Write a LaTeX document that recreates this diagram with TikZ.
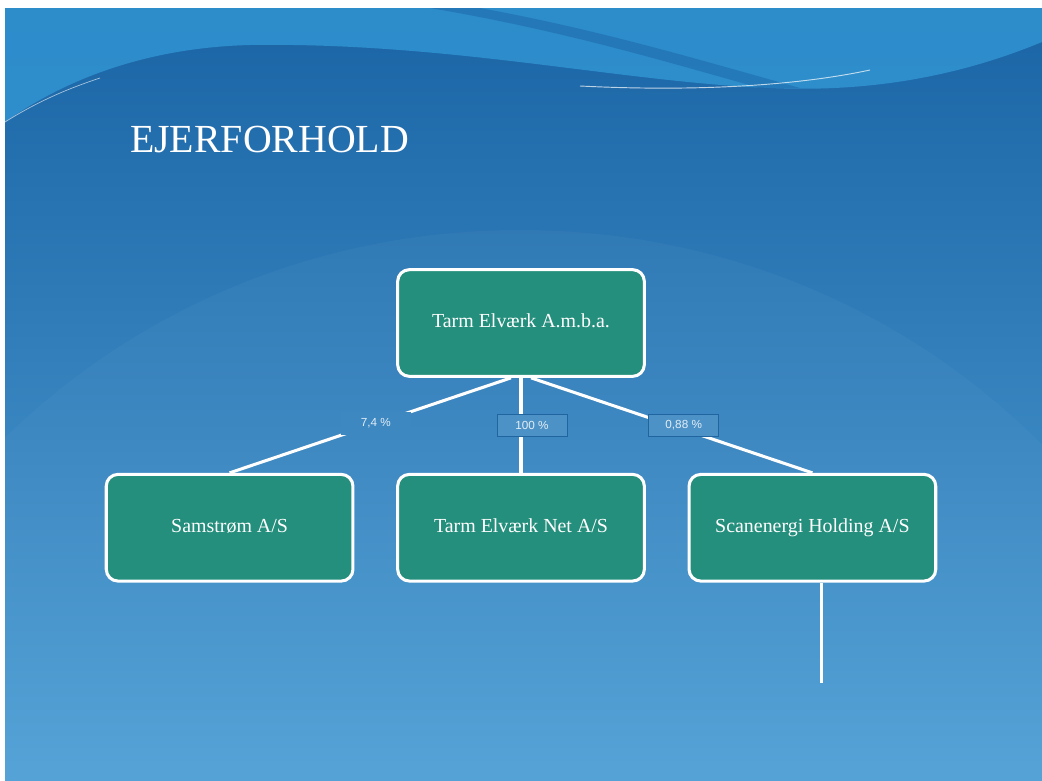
\documentclass[tikz,border=0pt]{standalone}
\usepackage{fontspec}
\setmainfont{Liberation Serif}
\setsansfont{Liberation Sans}
\usetikzlibrary{positioning}

\definecolor{slidetop}{RGB}{26,100,165}
\definecolor{slidebot}{RGB}{80,160,214}
\definecolor{wavelight}{RGB}{50,150,212}
\definecolor{wavedark}{RGB}{20,85,150}
\definecolor{boxteal}{RGB}{36,143,124}
\colorlet{lblblue}{slidebot!54!slidetop!97!white}
\colorlet{lblface}{lblblue!92!white}
\definecolor{lbledge}{RGB}{32,100,160}

\tikzset{
  orgbox/.style={draw=white, line width=2.6pt, rounded corners=10pt, fill=boxteal, text=white,
    minimum width=7.4cm, minimum height=3.2cm, text height=2.3ex, text depth=0.6ex,
    font=\fontsize{17}{19}\selectfont},
  link/.style={draw=white, line width=2.6pt},
  pct/.style={fill=lblblue, text=white!85!lblblue, font=\sffamily\fontsize{10}{12}\selectfont,
    inner sep=1pt, minimum width=2.1cm, minimum height=0.68cm},
  pctframe/.style={pct, fill=lblface, draw=lbledge, line width=0.7pt},
}

\begin{document}
\begin{tikzpicture}[x=0.03cm, y=-0.03cm]
        \useasboundingbox (0,0) rectangle (1042,780);
        % slide background
        \fill[white] (0,0) rectangle (1042,780);
        \shade[top color=slidetop, bottom color=slidebot] (5,8) rectangle (1042,780);
        \begin{scope}
            \clip (5,8) rectangle (1042,780);
            \fill[white, opacity=0.03] (520,920) ellipse (720 and 690);
            \fill[wavelight, opacity=0.8] (5,8) -- (1042,8) -- (1042,42) .. controls (950,80) and (860,92) .. (770,88)
                .. controls (620,82) and (450,42) .. (250,45) .. controls (130,48) and (50,90) .. (5,122) -- cycle;
            \fill[wavedark, opacity=0.35] (480,8) .. controls (600,30) and (700,60) .. (800,88) -- (760,88)
                .. controls (660,60) and (560,30) .. (430,8) -- cycle;
            \draw[white, opacity=0.7, line width=0.8pt] (580,86) .. controls (700,92) and (800,85) .. (870,70);
            \draw[white, opacity=0.6, line width=0.6pt] (5,122) .. controls (40,100) and (70,88) .. (100,78);
        \end{scope}

        \node[anchor=west, text=white, font=\fontsize{34}{38}\selectfont] (ttl) at (126,140) {EJERFORHOLD};

        % ownership tree
        \node[orgbox] (ow1) at (521,323) {Tarm Elværk A.m.b.a.};
        \node[orgbox, below=2.85cm of ow1] (sub2) {Tarm Elværk Net A/S};
        \node[orgbox, left=1.25cm of sub2] (sub1) {Samstrøm A/S};
        \node[orgbox, right=1.25cm of sub2] (sub3) {Scanenergi Holding A/S};

        \draw[link] ([xshift=-0.3cm]ow1.south) -- (sub1.north) node[pct, pos=0.48] (p1) {7,4 \%};
        \draw[link] (ow1.south) -- (sub2.north) node[pctframe, pos=0.5, xshift=0.33cm] (p2) {100 \%};
        \draw[link] ([xshift=0.3cm]ow1.south) -- (sub3.north) node[pctframe, pos=0.5, xshift=0.36cm] (p3) {0,88 \%};
        \draw[link] ([xshift=0.27cm]sub3.south) -- ++(0,100) coordinate (e3);
\end{tikzpicture}
\end{document}
